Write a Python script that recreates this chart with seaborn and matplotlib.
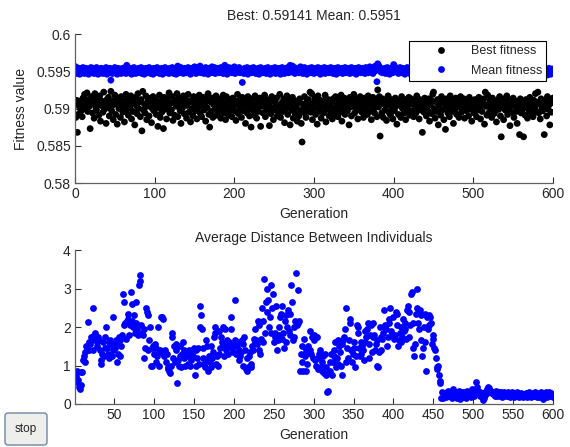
import numpy as np
import pandas as pd
import matplotlib
matplotlib.use("Agg")
import matplotlib.pyplot as plt
import seaborn as sns
from matplotlib.patches import FancyBboxPatch

# best fitness per generation, in units of 0.0001 above 0.585
best_raw = [
    38, 61, 18, 55, 43, 51, 60, 47, 39, 64, 55, 69, 50, 58, 71, 46, 62, 53, 23, 57,
    66, 44, 59, 37, 70, 52, 48, 63, 56, 41, 67, 33, 54, 60, 45, 72, 49, 57, 30, 62,
    51, 65, 40, 58, 73, 47, 54, 35, 61, 68, 42, 56, 29, 64, 50, 59, 38, 66, 53, 45,
    60, 32, 55, 69, 48, 63, 41, 57, 52, 67, 36, 61, 46, 58, 28, 65, 54, 43, 70, 50,
    59, 39, 62, 20, 73, 48, 56, 44, 67, 35, 53, 61, 40, 58, 64, 31, 50, 66, 47, 55,
    62, 42, 57, 26, 51, 68, 38, 60, 45, 54, 23, 65, 49, 59, 36, 63, 52, 71, 44, 57,
    48, 66, 34, 58, 41, 61, 53, 70, 39, 55, 64, 47, 30, 60, 51, 67, 43, 56, 62, 37,
    54, 69, 45, 59, 32, 61, 50, 40, 66, 56, 47, 63, 36, 58, 52, 68, 44, 60, 39, 55,
    65, 48, 57, 33, 62, 51, 70, 42, 25, 59, 46, 64, 38, 55, 61, 49, 67, 41, 56, 53,
    45, 63, 37, 60, 52, 68, 44, 58, 35, 66, 50, 57, 41, 62, 48, 55, 39, 64, 53, 47,
    60, 34, 56, 69, 43, 61, 50, 58, 38, 65, 47, 54, 62, 30, 57, 44, 66, 51, 40, 59,
    25, 63, 48, 55, 41, 67, 52, 37, 60, 46, 58, 64, 26, 53, 61, 44, 56, 68, 39, 50,
    62, 47, 55, 27, 59, 43, 66, 51, 35, 60, 48, 57, 64, 40, 54, 45, 69, 38, 52, 58,
    46, 63, 31, 56, 50, 67, 42, 59, 53, 28, 61, 48, 65, 37, 55, 44, 60, 52, 33, 58,
    40, 63, 47, 30, 5, 56, 51, 66, 43, 38, 59, 48, 62, 54, 72, 45, 70, 35, 57, 50,
    64, 42, 58, 29, 67, 51, 46, 61, 37, 55, 60, 44, 52, 68, 32, 57, 49, 62, 40, 54,
    46, 59, 36, 63, 51, 43, 66, 48, 56, 39, 61, 53, 45, 68, 33, 57, 50, 64, 42, 55,
    60, 47, 58, 28, 65, 52, 40, 62, 55, 69, 44, 57, 50, 63, 36, 59, 48, 66, 53, 45,
    61, 38, 56, 64, 49, 54, 42, 67, 58, 46, 60, 35, 53, 65, 50, 44, 62, 57, 39, 75,
    52, 66, 13, 59, 44, 63, 38, 56, 48, 61, 34, 54, 67, 45, 58, 41, 62, 50, 36, 57,
    47, 64, 53, 29, 59, 42, 61, 55, 38, 66, 50, 57, 44, 62, 35, 60, 52, 48, 65, 41,
    56, 63, 47, 58, 39, 61, 53, 44, 67, 50, 57, 36, 62, 48, 55, 18, 60, 45, 64, 52,
    40, 58, 47, 63, 33, 55, 61, 43, 69, 72, 50, 37, 59, 46, 62, 28, 54, 57, 41, 66,
    48, 60, 35, 56, 22, 63, 51, 44, 58, 39, 67, 53, 46, 61, 30, 57, 49, 64, 42, 55,
    60, 38, 52, 66, 45, 58, 50, 63, 37, 56, 47, 61, 54, 40, 65, 49, 57, 33, 60, 52,
    44, 62, 55, 39, 58, 48, 65, 51, 36, 60, 46, 57, 63, 29, 72, 53, 41, 68, 56, 45,
    61, 50, 38, 64, 54, 43, 59, 47, 32, 56, 62, 49, 66, 40, 12, 57, 52, 35, 63, 48,
    55, 67, 42, 59, 50, 27, 61, 45, 56, 64, 38, 53, 60, 46, 30, 57, 51, 15, 63, 44,
    58, 49, 12, 55, 41, 62, 53, 37, 60, 47, 65, 52, 43, 57, 39, 61, 50, 70, 46, 56,
    72, 44, 59, 36, 63, 51, 47, 58, 15, 54, 61, 40, 66, 49, 55, 28, 57, 45, 62, 64,
]

# mean fitness per generation, in units of 0.0001 above 0.593
mean_raw = [
    26, 17, 22, 19, 24, 16, 21, 23, 18, 25, 20, 17, 22, 24, 19, 21, 16, 23, 20, 25,
    18, 22, 24, 17, 21, 19, 25, 20, 16, 23, 22, 18, 24, 20, 17, 21, 23, 19, 25, 16,
    22, 20, 18, 24, 8, 21, 17, 23, 19, 25, 20, 22, 16, 24, 18, 21, 23, 17, 20, 24,
    19, 22, 25, 17, 28, 20, 23, 18, 21, 24, 16, 22, 19, 25, 20, 17, 23, 21, 18, 24,
    22, 19, 25, 17, 21, 23, 16, 20, 24, 18, 22, 19, 25, 21, 17, 23, 20, 16, 24, 22,
    18, 21, 25, 19, 23, 17, 22, 20, 24, 16, 21, 19, 25, 22, 18, 23, 20, 17, 24, 21,
    19, 25, 22, 17, 23, 20, 16, 24, 27, 21, 18, 22, 25, 19, 23, 17, 20, 24, 21, 18,
    22, 25, 19, 23, 16, 21, 24, 18, 20, 26, 22, 17, 23, 25, 19, 21, 27, 18, 24, 20,
    23, 17, 22, 25, 19, 21, 16, 24, 20, 23, 18, 26, 22, 19, 25, 17, 21, 24, 20, 23,
    18, 22, 25, 19, 24, 17, 21, 28, 20, 23, 16, 22, 25, 19, 21, 24, 18, 23, 20, 26,
    17, 22, 24, 19, 21, 25, 18, 23, 20, 5, 22, 17, 24, 21, 19, 25, 16, 23, 20, 22,
    24, 18, 21, 25, 19, 23, 17, 22, 20, 24, 16, 21, 25, 19, 23, 18, 22, 20, 24, 17,
    21, 25, 19, 23, 16, 22, 20, 24, 18, 21, 25, 17, 23, 19, 22, 24, 20, 16, 21, 25,
    19, 23, 17, 22, 24, 20, 25, 18, 21, 28, 23, 19, 27, 22, 25, 17, 21, 24, 20, 23,
    18, 22, 26, 19, 24, 17, 21, 25, 20, 23, 16, 22, 19, 24, 21, 18, 25, 20, 23, 17,
    22, 24, 19, 21, 25, 18, 23, 16, 20, 24, 22, 19, 25, 17, 21, 23, 20, 24, 18, 22,
    25, 19, 23, 17, 21, 24, 20, 16, 22, 25, 18, 23, 21, 19, 24, 17, 22, 20, 25, 18,
    23, 21, 19, 24, 17, 22, 25, 20, 18, 23, 21, 24, 16, 22, 19, 25, 20, 23, 18, 21,
    24, 19, 22, 17, 25, 20, 23, 18, 21, 26, 19, 24, 22, 17, 25, 20, 27, 23, 6, 30,
    28, 21, 25, 19, 23, 18, 22, 20, 24, 17, 21, 25, 19, 23, 16, 22, 24, 20, 18, 29,
    27, 21, 24, 19, 23, 17, 22, 25, 20, 18, 24, 21, 23, 16, 22, 19, 25, 20, 23, 17,
    21, 24, 15, 22, 19, 25, 20, 23, 17, 21, 24, 18, 22, 16, 25, 20, 23, 19, 21, 24,
    18, 22, 25, 20, 16, 23, 19, 24, 21, 17, 22, 25, 20, 23, 18, 21, 24, 19, 22, 17,
    25, 20, 23, 18, 21, 24, 16, 22, 19, 25, 20, 23, 17, 21, 24, 19, 22, 18, 25, 20,
    23, 17, 21, 24, 19, 22, 16, 25, 20, 23, 18, 21, 24, 17, 22, 19, 25, 20, 23, 16,
    21, 24, 18, 22, 25, 19, 23, 17, 20, 24, 21, 16, 22, 25, 19, 23, 18, 21, 24, 20,
    17, 22, 25, 19, 23, 20, 16, 24, 21, 18, 22, 25, 19, 23, 17, 21, 24, 20, 22, 18,
    25, 19, 23, 17, 21, 24, 20, 16, 22, 25, 18, 23, 21, 19, 24, 17, 22, 20, 25, 18,
    23, 21, 19, 24, 17, 22, 25, 20, 18, 23, 21, 24, 16, 22, 19, 25, 20, 23, 18, 21,
    24, 19, 22, 17, 25, 20, 23, 16, 21, 24, 19, 22, 15, 20, 24, 18, 16, 21, 23, 21,
]

# average distance between individuals, in hundredths
dist_raw = [
    70, 72, 58, 85, 62, 45, 38, 50, 82, 84, 115, 125, 110, 135, 150, 145, 212, 160, 140, 155,
    175, 165, 250, 140, 180, 185, 170, 160, 150, 175, 165, 140, 105, 115, 130, 160, 125, 145, 175, 200,
    145, 130, 120, 160, 165, 155, 125, 140, 225, 150, 145, 165, 160, 110, 130, 175, 165, 125, 150, 180,
    285, 205, 265, 210, 170, 215, 235, 220, 180, 205, 290, 260, 215, 200, 230, 185, 210, 265, 195, 180,
    310, 320, 335, 205, 185, 180, 195, 120, 145, 250, 240, 230, 140, 165, 200, 100, 145, 100, 150, 130,
    155, 145, 110, 125, 200, 100, 135, 140, 225, 225, 220, 125, 130, 140, 110, 130, 95, 90, 85, 80,
    100, 185, 175, 120, 150, 110, 155, 140, 55, 115, 100, 150, 125, 95, 130, 160, 140, 120, 100, 130,
    135, 105, 125, 140, 100, 115, 140, 130, 125, 145, 75, 100, 140, 120, 145, 105, 255, 200, 230, 195,
    120, 145, 105, 95, 165, 150, 115, 85, 125, 110, 150, 95, 120, 135, 175, 200, 185, 105, 125, 100,
    190, 130, 145, 175, 160, 200, 150, 125, 195, 140, 165, 155, 130, 160, 150, 195, 225, 145, 135, 155,
    165, 270, 130, 150, 160, 140, 115, 125, 135, 165, 100, 155, 175, 140, 90, 120, 85, 95, 125, 135,
    105, 95, 150, 140, 170, 160, 195, 165, 155, 215, 205, 140, 130, 170, 250, 160, 215, 325, 185, 265,
    240, 300, 270, 200, 225, 185, 310, 250, 285, 160, 175, 185, 255, 140, 165, 200, 180, 225, 235, 170,
    255, 185, 145, 215, 230, 160, 200, 245, 190, 235, 180, 310, 265, 165, 175, 200, 215, 340, 205, 210,
    295, 215, 85, 130, 150, 110, 85, 170, 125, 140, 85, 105, 150, 135, 140, 190, 130, 175, 120, 180,
    165, 115, 100, 175, 90, 120, 130, 140, 95, 85, 110, 125, 80, 130, 75, 95, 30, 35, 80, 110,
    85, 130, 75, 110, 125, 140, 160, 95, 120, 165, 105, 150, 135, 100, 75, 155, 165, 175, 195, 110,
    250, 145, 120, 165, 220, 210, 140, 110, 130, 145, 160, 95, 125, 205, 185, 200, 145, 125, 130, 160,
    150, 140, 115, 190, 160, 175, 195, 210, 120, 155, 180, 205, 135, 175, 210, 180, 140, 155, 165, 100,
    95, 135, 200, 175, 140, 170, 185, 245, 200, 205, 195, 150, 175, 210, 220, 250, 190, 180, 225, 180,
    170, 180, 240, 235, 205, 150, 165, 185, 200, 160, 175, 220, 190, 210, 195, 170, 245, 255, 240, 175,
    205, 285, 290, 210, 145, 125, 155, 235, 250, 300, 210, 195, 245, 230, 165, 125, 145, 200, 160, 235,
    85, 225, 195, 205, 230, 225, 210, 155, 170, 180, 145, 140, 120, 95, 90, 100, 75, 60, 55, 15,
    30, 15, 20, 22, 28, 18, 30, 25, 35, 20, 28, 32, 15, 22, 38, 25, 18, 30, 22, 15,
    28, 35, 20, 12, 25, 30, 18, 32, 22, 28, 15, 35, 25, 20, 30, 28, 18, 40, 25, 32,
    22, 30, 40, 58, 45, 35, 28, 20, 32, 25, 18, 10, 15, 22, 30, 25, 40, 45, 38, 42,
    30, 35, 28, 32, 25, 30, 22, 35, 28, 20, 25, 30, 22, 28, 32, 18, 25, 30, 22, 28,
    25, 20, 30, 22, 28, 18, 25, 32, 22, 26, 18, 28, 24, 20, 30, 22, 26, 18, 24, 28,
    22, 18, 26, 20, 24, 28, 22, 18, 26, 30, 22, 24, 18, 26, 28, 20, 24, 30, 22, 18,
    25, 28, 18, 22, 30, 24, 20, 12, 25, 28, 32, 22, 18, 26, 30, 24, 20, 28, 22, 18,
]

generation = np.arange(1, len(best_raw) + 1)
best_fitness = 0.585 + np.array(best_raw) * 0.0001
mean_fitness = 0.593 + np.array(mean_raw) * 0.0001
avg_distance = np.array(dist_raw) / 100.0

fitness = pd.DataFrame({
    "Generation": np.concatenate([generation, generation]),
    "value": np.concatenate([best_fitness, mean_fitness]),
    "series": ["Best fitness"] * len(generation) + ["Mean fitness"] * len(generation),
})

sns.set_theme(style="white")
plt.rcParams["font.family"] = ["Liberation Sans", "DejaVu Sans"]

fig = plt.figure(figsize=(5.7, 4.47), dpi=100)
ax1 = fig.add_axes([0.1316, 0.5906, 0.8386, 0.3333])
ax2 = fig.add_axes([0.1316, 0.0962, 0.8386, 0.3445])

# top panel: best and mean fitness
sns.scatterplot(data=fitness, x="Generation", y="value", hue="series",
                palette={"Best fitness": "black", "Mean fitness": "blue"},
                s=24, linewidth=0, ax=ax1)
ax1.set_xlim(0, 600)
ax1.set_ylim(0.58, 0.6)
ax1.set_xticks(range(0, 601, 100))
ax1.set_yticks([0.58, 0.585, 0.59, 0.595, 0.6])
ax1.set_yticklabels(["0.58", "0.585", "0.59", "0.595", "0.6"])
ax1.set_title("Best: 0.59141 Mean: 0.5951", fontsize=10, pad=10)
ax1.set_xlabel("Generation", fontsize=10, labelpad=4)
ax1.set_ylabel("Fitness value", fontsize=10, labelpad=6)
leg = ax1.legend(loc="upper right", bbox_to_anchor=(0.986, 0.953), borderaxespad=0,
                 fontsize=9, frameon=True, fancybox=False, framealpha=1,
                 handletextpad=0.2, borderpad=0.34, labelspacing=0.6, handlelength=4.4)
leg.get_frame().set_edgecolor("black")
leg.get_frame().set_linewidth(0.8)

# bottom panel: average distance
sns.scatterplot(x=generation, y=avg_distance, color="blue", s=24, linewidth=0, ax=ax2)
ax2.set_xlim(1, 600)
ax2.set_ylim(0, 4)
ax2.set_xticks(range(50, 601, 50))
ax2.set_yticks(range(0, 5))
ax2.set_title("Average Distance Between Individuals", fontsize=10, pad=6)
ax2.set_xlabel("Generation", fontsize=10, labelpad=4)
ax2.set_ylabel("")

for ax in (ax1, ax2):
    sns.despine(ax=ax)
    for side in ("left", "bottom"):
        ax.spines[side].set_color("#606060")
        ax.spines[side].set_linewidth(0.9)
    ax.tick_params(direction="in", length=4, width=0.8, color="#303030",
                   labelsize=10, pad=3, left=True, bottom=True)

# stop button in the corner
btn = FancyBboxPatch((5, 2), 42, 32, boxstyle="round,pad=0,rounding_size=3",
                     transform=None, facecolor="#eeeeea", edgecolor="#6d86a8",
                     linewidth=1.0)
fig.patches.append(btn)
fig.text(26 / 570, 18 / 447, "stop", ha="center", va="center", fontsize=8.5)

fig.savefig("out.png", dpi=100)
